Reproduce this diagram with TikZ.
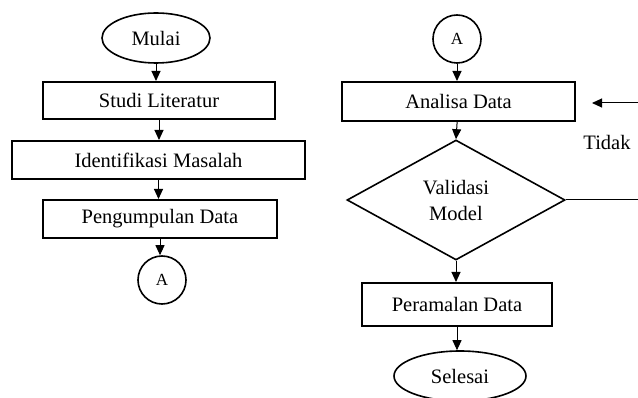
\documentclass[tikz,border=0pt]{standalone}
\usepackage{fontspec}
\setmainfont{Liberation Serif}
\usetikzlibrary{shapes.geometric,arrows.meta}
\begin{document}
\begin{tikzpicture}[x=1pt,y=-1pt,
  every node/.style={font=\fontsize{20.5}{26}\selectfont, inner sep=0pt},
  procbox/.style={draw, line width=2pt, rectangle},
  term/.style={draw, line width=1.6pt, ellipse},
  conn/.style={draw, line width=1.6pt, circle, minimum size=48pt, font=\fontsize{17}{20}\selectfont},
  decision/.style={draw, line width=1.6pt, diamond, minimum width=218pt, minimum height=120pt, align=center, aspect=1.8},
  flow/.style={line width=1pt, -{Triangle[length=10pt,width=9pt]}}
]
\useasboundingbox (0,0) rectangle (638,398);
\fill[white] (0,0) rectangle (638,398);
% left column
\node[term, minimum width=108pt, minimum height=50pt] (mulai) at (156,38) {Mulai};
\node[procbox, minimum width=232pt, minimum height=37pt] (studi) at (159,100.5) {Studi Literatur};
\node[procbox, minimum width=293pt, minimum height=38pt] (ident) at (158.5,160) {Identifikasi Masalah};
\node[procbox, minimum width=234pt, minimum height=38pt] (kumpul) at (160,219) {Pengumpulan Data};
\node[conn] (a1) at (162,280) {A};
% right column
\node[conn] (a2) at (457,39) {A};
\node[procbox, minimum width=233pt, minimum height=39pt] (analisa) at (458.5,101.5) {Analisa Data};
\node[decision] (valid) at (456,200) {Validasi\\Model};
\node[procbox, minimum width=190pt, minimum height=43pt] (ramal) at (457,304.5) {Peramalan Data};
\node[term, minimum width=132pt, minimum height=50pt] (selesai) at (460,376) {Selesai};
\node (tidak) at (607,142) {Tidak};
\coordinate (fbin) at (638,103);
\coordinate (fbout) at (638,200);
% connectors
\draw[flow] (mulai) -- (mulai |- studi.north);
\draw[flow] (studi) -- (studi |- ident.north);
\draw[flow] (ident) -- (ident |- kumpul.north);
\draw[flow] (kumpul) -- (kumpul |- a1.north);
\draw[flow] (a2) -- (a2 |- analisa.north);
\draw[flow] (analisa) -- (valid.north);
\draw[flow] (valid) -- (valid |- ramal.north);
\draw[flow] (ramal) -- (ramal |- selesai.north);
\draw[line width=1pt] (valid.east) -- (fbout);
\draw[flow] (fbin) -- ++(-46,0);
\end{tikzpicture}
\end{document}
